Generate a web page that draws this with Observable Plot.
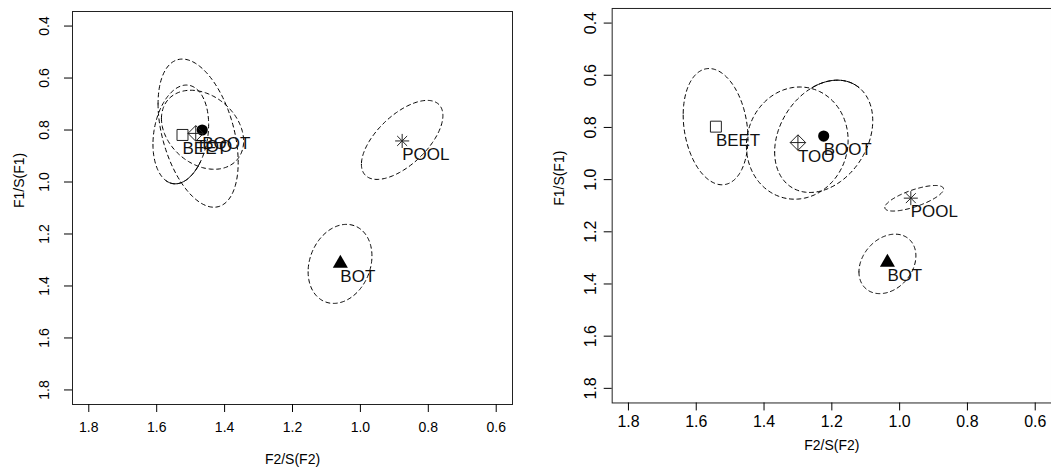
<!DOCTYPE html>
<html><head><meta charset="utf-8">
<script src="https://cdn.jsdelivr.net/npm/d3@7"></script>
<script src="https://cdn.jsdelivr.net/npm/@observablehq/plot@0.6"></script>
<style>
html,body{margin:0;padding:0;background:#fff;overflow:hidden;}
#wrap{position:relative;width:1051px;height:467px;overflow:hidden;background:#fff;}
#left,#right{position:absolute;top:0;}
#left{left:0;} #right{left:525px;}
</style></head><body><div id="wrap"><div id="left"></div><div id="right"></div></div>
<script>
// ---- data ----
const groups = ["BEET", "BOOT", "TOO", "BOT", "POOL"];
const xTicks = [1.8, 1.6, 1.4, 1.2, 1.0, 0.8, 0.6];
const yTicks = [0.4, 0.6, 0.8, 1.0, 1.2, 1.4, 1.6, 1.8];
const xTitle = "F2/S(F2)";
const yTitle = "F1/S(F1)";

// left panel: group means
const leftX = [1.524, 1.466, 1.485, 1.059, 0.877];
const leftY = [0.819, 0.800, 0.813, 1.313, 0.842];
// left panel: ellipse centre, half-extents and correlation
const leftEllX  = [1.529, 1.465, 1.478, 1.060, 0.877];
const leftEllY  = [0.817, 0.799, 0.812, 1.315, 0.838];
const leftEllSx = [0.082, 0.121, 0.118, 0.094, 0.120];
const leftEllSy = [0.190, 0.152, 0.285, 0.152, 0.152];
const leftEllR  = [0.20, -0.285, -0.395, 0.20, 0.617];

// right panel: group means
const rightX = [1.542, 1.224, 1.300, 1.036, 0.967];
const rightY = [0.797, 0.833, 0.858, 1.317, 1.071];
// right panel: ellipse centre, half-extents and correlation
const rightEllX  = [1.543, 1.224, 1.302, 1.036, 0.957];
const rightEllY  = [0.797, 0.834, 0.860, 1.323, 1.0715];
const rightEllSx = [0.0955, 0.1447, 0.150, 0.084, 0.0866];
const rightEllSy = [0.2228, 0.2152, 0.215, 0.114, 0.049];
const rightEllR  = [-0.20, 0.28, 0.05, 0.27, 0.72];

const fmt = d3.format(".1f");
const FONT = "'Liberation Sans', Arial, Helvetica, sans-serif";

function panel(o) {
  const pts = groups.map((g, i) => ({g, x: o.px[i], y: o.py[i]}));
  const ell = [];
  const solid = [];
  groups.forEach((g, i) => {
    const d = Math.acos(o.er[i]);
    const N = 180;
    for (let k = 0; k <= N; k++) {
      const t = 2 * Math.PI * k / N;
      const p = {g, x: o.ex[i] + o.esx[i] * Math.cos(t), y: o.ey[i] + o.esy[i] * Math.cos(t - d)};
      ell.push(p);
      if (o.solid && o.solid.g === g && t >= o.solid.t0 && t <= o.solid.t1) solid.push(p);
    }
  });
  const sel = (name) => pts.filter(p => p.g === name);
  return Plot.plot({
    width: o.width, height: o.height,
    marginLeft: o.ml, marginRight: o.mr, marginTop: o.mt, marginBottom: o.mb,
    style: {fontFamily: FONT, background: "white", color: "black", overflow: "visible"},
    x: {domain: [1.848, 0.552]},
    y: {domain: [1.856, 0.344]},
    marks: [
      Plot.line(ell, {x: "x", y: "y", z: "g", stroke: "black", strokeWidth: 1, strokeDasharray: "4,3.5"}),
      Plot.line(solid, {x: "x", y: "y", z: "g", stroke: "black", strokeWidth: 1}),
      Plot.dot(sel("BEET"), {x: "x", y: "y", symbol: "square", r: 6.2, fill: "none", stroke: "#222", strokeWidth: 1}),
      Plot.dot(sel("BOOT"), {x: "x", y: "y", symbol: "circle", r: 5.6, fill: "black", stroke: "none"}),
      Plot.dot(sel("TOO"), {x: "x", y: "y", symbol: "diamond2", r: 7, fill: "none", stroke: "#222", strokeWidth: 1}),
      Plot.dot(sel("TOO"), {x: "x", y: "y", symbol: "plus", r: 5.1, fill: "none", stroke: "#222", strokeWidth: 1}),
      Plot.dot(sel("BOT"), {x: "x", y: "y", symbol: "triangle", r: 5.6, fill: "black", stroke: "none"}),
      Plot.dot(sel("POOL"), {x: "x", y: "y", symbol: "plus", r: 4.6, fill: "none", stroke: "#222", strokeWidth: 1}),
      Plot.dot(sel("POOL"), {x: "x", y: "y", symbol: "times", r: 4.6, fill: "none", stroke: "#222", strokeWidth: 1}),
      Plot.text(pts, {x: "x", y: "y", text: "g", textAnchor: "start", lineAnchor: "top", dy: 7, fontSize: 17, fill: "#111"}),
      Plot.frame({stroke: "#222"}),
      Plot.axisX({ticks: xTicks, tickSize: 8, tickPadding: o.xpad, fontSize: o.tickFont, label: null, tickFormat: fmt}),
      Plot.axisY({ticks: yTicks, tickSize: 8, tickPadding: o.ypad, tickRotate: -90, fontSize: o.tickFont, label: null, tickFormat: fmt}),
      Plot.text([xTitle], {frameAnchor: "bottom", text: d => d, dy: o.xtdy, fontSize: 14, lineAnchor: "middle"}),
      Plot.text([yTitle], {frameAnchor: "left", text: d => d, dx: -53, rotate: -90, fontSize: 14, lineAnchor: "middle"})
    ]
  });
}

document.getElementById("left").appendChild(panel({
  px: leftX, py: leftY, ex: leftEllX, ey: leftEllY, esx: leftEllSx, esy: leftEllSy, er: leftEllR,
  width: 525, height: 467, ml: 72, mr: 13, mt: 11, mb: 63,
  xpad: 9.5, ypad: 16, tickFont: 14, xtdy: 55,
  solid: {g: "BEET", t0: 0.99, t1: 2.36}
}));
document.getElementById("right").appendChild(panel({
  px: rightX, py: rightY, ex: rightEllX, ey: rightEllY, esx: rightEllSx, esy: rightEllSy, er: rightEllR,
  width: 528, height: 467, ml: 87, mr: 0, mt: 8, mb: 63,
  xpad: 4.5, ypad: 8, tickFont: 16, xtdy: 43,
  solid: {g: "BOOT", t0: 3.89, t1: 4.98}
}));
</script>
</body></html>
